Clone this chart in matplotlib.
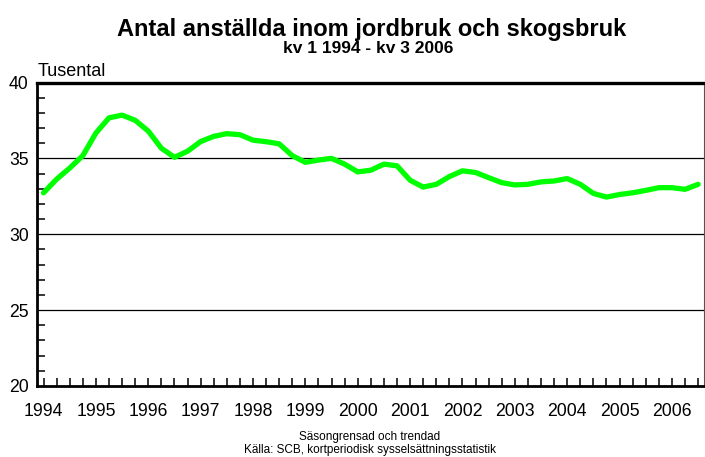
import numpy as np
import matplotlib
matplotlib.use("Agg")
import matplotlib.pyplot as plt

plt.rcParams['font.family'] = ['Liberation Sans', 'DejaVu Sans']

# Quarterly values, kv 1 1994 - kv 3 2006 (tusental)
years = list(range(1994, 2007))
employed = [
    32.73, 33.63, 34.36, 35.18,   # 1994
    36.67, 37.67, 37.85, 37.51,   # 1995
    36.80, 35.67, 35.07, 35.47,   # 1996
    36.11, 36.45, 36.63, 36.56,   # 1997
    36.20, 36.10, 35.96, 35.18,   # 1998
    34.74, 34.89, 35.00, 34.62,   # 1999
    34.11, 34.22, 34.62, 34.51,   # 2000
    33.56, 33.11, 33.29, 33.80,   # 2001
    34.18, 34.07, 33.73, 33.40,   # 2002
    33.25, 33.29, 33.45, 33.51,   # 2003
    33.67, 33.29, 32.69, 32.45,   # 2004
    32.62, 32.73, 32.89, 33.07,   # 2005
    33.07, 32.96, 33.29,          # 2006
]

title = "Antal anställda inom jordbruk och skogsbruk"
subtitle = "kv 1 1994 - kv 3 2006"
notes = ["Säsongrensad och trendad",
         "Källa: SCB, kortperiodisk sysselsättningsstatistik"]

fig = plt.figure(figsize=(7.05, 4.57), dpi=100)
ax = fig.add_axes([37 / 705, 1 - 386 / 457, (704 - 37) / 705, (386 - 82.5) / 457])

q = np.arange(len(employed))
ax.plot(q, employed, color='#00ff00', lw=3.8, solid_joinstyle='round',
        solid_capstyle='round', zorder=3)

ax.set_xlim(-0.5, 50.45)
ax.set_ylim(20, 40)

# gridlines
for v in (25, 30, 35):
    ax.axhline(v, color='black', lw=0.9, zorder=1)

ax.set_yticks([20, 25, 30, 35, 40])
ax.set_yticks(np.arange(20, 41, 1), minor=True)
ax.set_xticks(np.arange(0, len(years) * 4, 4))
ax.set_xticklabels([str(y) for y in years])
ax.set_xticks(q, minor=True)

ax.tick_params(axis='both', which='both', direction='in', length=6, width=1.1,
               labelsize=12.7, colors='black')
ax.tick_params(axis='x', which='major', pad=12)
ax.tick_params(axis='y', which='major', pad=6, length=0)

for side in ('left', 'bottom'):
    ax.spines[side].set_linewidth(2.0)
ax.spines['top'].set_linewidth(2.4)
ax.spines['right'].set_linewidth(0.8)
ax.spines['right'].set_color('#555555')

fig.text(372 / 705, 1 - 36 / 457, title, ha='center', va='baseline',
         fontsize=17, fontweight='bold')
fig.text(368 / 705, 1 - 53 / 457, subtitle, ha='center', va='baseline',
         fontsize=12.5, fontweight='bold')
fig.text(38 / 705, 1 - 76 / 457, "Tusental", ha='left', va='baseline', fontsize=13)

fig.text(370 / 705, 1 - 440 / 457, notes[0], ha='center', va='baseline', fontsize=8.5)
fig.text(370 / 705, 1 - 453 / 457, notes[1], ha='center', va='baseline', fontsize=8.5)

fig.savefig("out.png", dpi=100)
